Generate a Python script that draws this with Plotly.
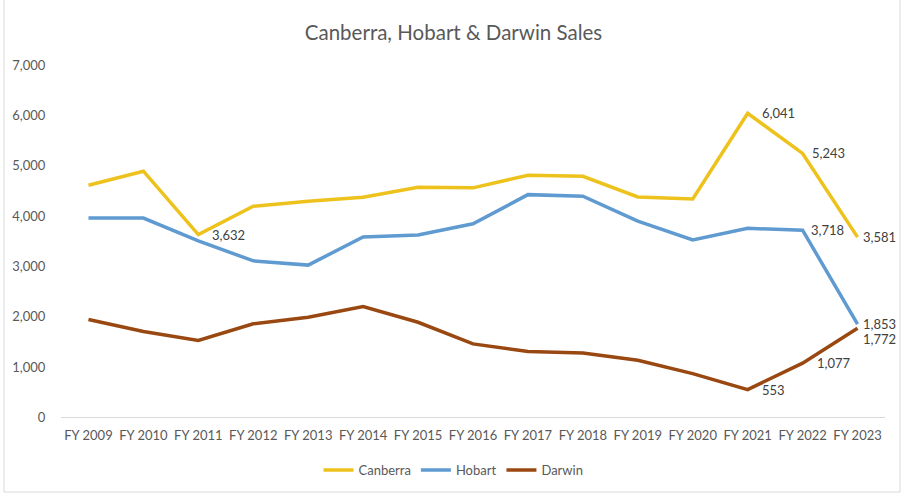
import plotly.graph_objects as go

years = ['FY 2009', 'FY 2010', 'FY 2011', 'FY 2012', 'FY 2013', 'FY 2014', 'FY 2015', 'FY 2016',
         'FY 2017', 'FY 2018', 'FY 2019', 'FY 2020', 'FY 2021', 'FY 2022', 'FY 2023']
canberra = [4610, 4890, 3632, 4195, 4295, 4375, 4570, 4560, 4810, 4790, 4380, 4340, 6041, 5243, 3581]
hobart = [3960, 3960, 3505, 3110, 3025, 3585, 3625, 3845, 4425, 4395, 3900, 3525, 3755, 3718, 1853]
darwin = [1945, 1705, 1530, 1860, 1990, 2200, 1890, 1460, 1310, 1280, 1135, 870, 553, 1077, 1772]

# which points get a data label
canberra_lbl = [2, 12, 13, 14]
hobart_lbl = [13, 14]
darwin_lbl = [12, 13, 14]

# label offsets in px, per (series, point)
shift_x = {('Canberra', 2): 12, ('Canberra', 12): 12, ('Canberra', 13): 7, ('Canberra', 14): 3,
           ('Hobart', 13): 6, ('Hobart', 14): 3,
           ('Darwin', 12): 12, ('Darwin', 13): 12, ('Darwin', 14): 3}
shift_y = {('Darwin', 14): -11}

grey = '#595959'
fig = go.Figure()
series = [('Canberra', canberra, canberra_lbl, '#EEC21C'),
          ('Hobart', hobart, hobart_lbl, '#5F9BD0'),
          ('Darwin', darwin, darwin_lbl, '#9A4812')]
for name, vals, idx, col in series:
    fig.add_trace(go.Scatter(x=years, y=vals, name=name, mode='lines',
                             line=dict(color=col, width=3.5)))
    for i in idx:
        fig.add_annotation(x=years[i], y=vals[i], text=f'{vals[i]:,}', showarrow=False,
                           xanchor='left', yanchor='middle',
                           xshift=shift_x[(name, i)], yshift=shift_y.get((name, i), 0),
                           font=dict(size=13, color='#404040'))

fig.update_layout(
    width=907, height=498,
    margin=dict(l=61, r=22, t=65, b=79),
    paper_bgcolor='white', plot_bgcolor='white',
    font=dict(family='Lato, Open Sans, sans-serif', color=grey, size=13),
    title=dict(text='Canberra, Hobart & Darwin Sales', x=0.5, xanchor='center',
               y=1 - 33 / 498, yanchor='middle', font=dict(size=20.5, color=grey)),
    legend=dict(orientation='h', xref='container', x=0.5, xanchor='center',
                yref='container', y=1 - 470 / 498, yanchor='middle',
                font=dict(size=13, color=grey)),
    showlegend=True,
)
fig.update_xaxes(range=[-0.5, 14.5], showgrid=False, showline=True, linecolor='#D9D9D9',
                 linewidth=1, ticks='outside', ticklen=6, tickcolor='white', tickangle=0,
                 tickfont=dict(size=13, color=grey))
fig.update_yaxes(range=[0, 7000], dtick=1000, tickformat=',', showgrid=False,
                 zeroline=False, showline=False, ticks='outside', ticklen=12,
                 tickcolor='white', tickfont=dict(size=13, color=grey))
# chart area border
fig.add_shape(type='rect', xref='paper', yref='paper',
              x0=(4 - 61) / 824, x1=(900 - 61) / 824,
              y0=(419 - 494) / 354, y1=(419 + 3) / 354,
              line=dict(color='#D9D9D9', width=1))

fig.write_html('out.html', config={'displayModeBar': False},
               post_script="document.body.style.margin='0';")
